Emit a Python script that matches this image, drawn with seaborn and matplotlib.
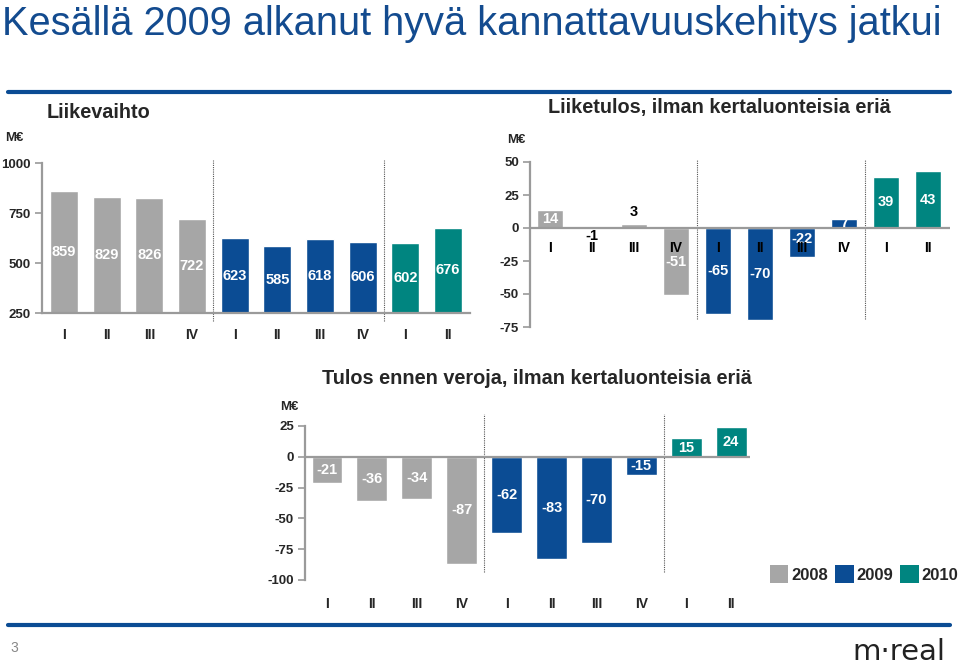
import matplotlib
matplotlib.use("Agg")
import matplotlib.pyplot as plt
import matplotlib.transforms as mtransforms
from matplotlib.patches import Patch
from matplotlib import font_manager
import seaborn as sns
import pandas as pd

# ---------------- data ----------------
quarters = ["I", "II", "III", "IV", "I", "II", "III", "IV", "I", "II"]
years = ["2008"] * 4 + ["2009"] * 4 + ["2010"] * 2
year_levels = ["2008", "2009", "2010"]
liikevaihto = [859, 829, 826, 722, 623, 585, 618, 606, 602, 676]
liiketulos = [14, -1, 3, -51, -65, -70, -22, 7, 39, 43]
tulos_ennen_veroja = [-21, -36, -34, -87, -62, -83, -70, -15, 15, 24]

title = "Kesällä 2009 alkanut hyvä kannattavuuskehitys jatkui"
t1 = "Liikevaihto"
t2 = "Liiketulos, ilman kertaluonteisia eriä"
t3 = "Tulos ennen veroja, ilman kertaluonteisia eriä"
unit = "M€"

GREY = "#A6A6A6"
BLUE = "#0B4C94"
TEAL = "#008580"
palette = {"2008": GREY, "2009": BLUE, "2010": TEAL}
AXC = "#9A9A9A"

sns.set_theme(style="white")
plt.rcParams["font.family"] = ["Liberation Sans", "DejaVu Sans"]
plt.rcParams["axes.unicode_minus"] = False

W, H = 960, 669
fig = plt.figure(figsize=(W / 100, H / 100), dpi=100)


def fx(px):
    return px / W


def fy(py):
    return 1 - py / H


def make_ax(left, right, top, bottom):
    return fig.add_axes([fx(left), fy(bottom), (right - left) / W, (bottom - top) / H])


df = pd.DataFrame({"pos": list(range(len(quarters))), "q": quarters, "year": years,
                   "lv": liikevaihto, "lt": liiketulos, "tv": tulos_ennen_veroja})


def base_style(ax, yticks):
    for s in ["top", "right"]:
        ax.spines[s].set_visible(False)
    ax.spines["left"].set_color(AXC)
    ax.spines["left"].set_linewidth(1.6)
    ax.set_yticks(yticks)
    ax.tick_params(axis="y", which="both", left=True, length=5, width=1.2, color=AXC,
                   labelsize=9.5, pad=3)
    for lab in ax.get_yticklabels():
        lab.set_fontweight("bold")
    ax.set_xlabel("")
    ax.set_ylabel("")
    ax.grid(False)


def dotted(ax, xs, y0, y1):
    tr = mtransforms.blended_transform_factory(ax.transData, ax.transAxes)
    for x in xs:
        ax.plot([x, x], [y0, y1], transform=tr, color="#555555", linestyle=(0, (1, 1)),
                linewidth=0.8, clip_on=False, zorder=1)


# ---------------- panel 1: Liikevaihto ----------------
ax1 = make_ax(42, 470, 163, 313)
sns.barplot(data=df, x="pos", y="lv", hue="year", hue_order=year_levels, palette=palette,
            dodge=False, width=0.66, legend=False, ax=ax1, saturation=1)
ax1.set_ylim(250, 1000)
ax1.set_xlim(-0.516, 9.515)
base_style(ax1, [250, 500, 750, 1000])
ax1.spines["bottom"].set_color(AXC)
ax1.spines["bottom"].set_linewidth(1.6)
ax1.set_xticks(range(len(quarters)))
ax1.set_xticklabels(quarters, fontweight="bold", fontsize=10)
ax1.tick_params(axis="x", length=0, pad=11)
for i, v in enumerate(liikevaihto):
    ax1.text(i, (v + 250) / 2, str(v), ha="center", va="center", color="white",
             fontsize=10.5, fontweight="bold", zorder=5)
dotted(ax1, [3.5, 7.5], -0.05, 1.02)

# ---------------- panel 2: Liiketulos ----------------
ax2 = make_ax(530, 950, 162, 327)
sns.barplot(data=df, x="pos", y="lt", hue="year", hue_order=year_levels, palette=palette,
            dodge=False, width=0.64, legend=False, ax=ax2, saturation=1)
ax2.set_ylim(-75, 50)
ax2.set_xlim(-0.476, 9.524)
base_style(ax2, [-75, -50, -25, 0, 25, 50])
ax2.spines["bottom"].set_visible(False)
ax2.axhline(0, color=AXC, linewidth=1.6, zorder=3)
ax2.set_xticks([])
for i, q in enumerate(quarters):
    ax2.annotate(q, xy=(i, 0), xytext=(0, -14.5), textcoords="offset points",
                 ha="center", va="center", fontsize=10, fontweight="bold", color="black",
                 zorder=6)
for i, v in enumerate(liiketulos):
    if abs(v) < 5:
        off = 9 if v > 0 else -4.5
        ax2.annotate(str(v), xy=(i, v), xytext=(0, off), textcoords="offset points",
                     ha="center", va="center", fontsize=10.5, fontweight="bold",
                     color="black", zorder=6)
    else:
        ax2.annotate(str(v), xy=(i, v / 2), xytext=(0, 2.5 if v == -22 else 0),
                     textcoords="offset points", ha="center", va="center", color="white",
                     fontsize=10.5, fontweight="bold", zorder=5)
dotted(ax2, [3.5, 7.5], 0.05, 1.01)

# ---------------- panel 3: Tulos ennen veroja ----------------
ax3 = make_ax(305, 750, 426, 580)
sns.barplot(data=df, x="pos", y="tv", hue="year", hue_order=year_levels, palette=palette,
            dodge=False, width=0.69, legend=False, ax=ax3, saturation=1)
ax3.set_ylim(-100, 25)
ax3.set_xlim(-0.49, 9.42)
base_style(ax3, [-100, -75, -50, -25, 0, 25])
ax3.spines["bottom"].set_visible(False)
ax3.axhline(0, color=AXC, linewidth=1.6, zorder=3)
ax3.set_xticks(range(len(quarters)))
ax3.set_xticklabels(quarters, fontweight="bold", fontsize=10)
ax3.tick_params(axis="x", length=0, pad=12)
for i, v in enumerate(tulos_ennen_veroja):
    ax3.text(i, v / 2, str(v), ha="center", va="center", color="white",
             fontsize=10.5, fontweight="bold", zorder=5)
dotted(ax3, [3.5, 7.5], 0.05, 1.08)

# ---------------- slide decorations ----------------
try:
    font_manager.findfont("Liberation Sans Narrow", fallback_to_default=False)
    tfam, tsize = ["Liberation Sans Narrow", "DejaVu Sans"], 29
except Exception:
    tfam, tsize = ["Liberation Sans", "DejaVu Sans"], 28.6
fig.text(fx(2), fy(35), title, family=tfam, fontsize=tsize, color="#134B8F",
         ha="left", va="baseline")

for y in (92, 625):
    fig.add_artist(plt.Line2D([fx(8), fx(950)], [fy(y), fy(y)], color="#0B4C94",
                              linewidth=3, transform=fig.transFigure))

fig.text(fx(47), fy(112), t1, fontsize=14.3, fontweight="bold", ha="left", va="center")
fig.text(fx(548), fy(108), t2, fontsize=14.3, fontweight="bold", ha="left", va="center")
fig.text(fx(322), fy(378), t3, fontsize=14.3, fontweight="bold", ha="left", va="center")
fig.text(fx(5), fy(138), unit, fontsize=9.5, fontweight="bold", ha="left", va="center")
fig.text(fx(507), fy(140), unit, fontsize=9.5, fontweight="bold", ha="left", va="center")
fig.text(fx(280), fy(407), unit, fontsize=9.5, fontweight="bold", ha="left", va="center")

handles = [Patch(facecolor=palette[y], edgecolor="none", label=y) for y in year_levels]
leg = fig.legend(handles=handles, loc="center", bbox_to_anchor=(fx(864), fy(574)), ncol=3,
                 frameon=False, handlelength=1.1, handleheight=1.3, handletextpad=0.15,
                 columnspacing=0.45, borderpad=0, borderaxespad=0,
                 prop={"weight": "bold", "size": 12})

fig.text(fx(10), fy(648), "3", fontsize=10, color="#888888", ha="left", va="center")
fig.text(fx(945), fy(666), "m·real", fontsize=21, color="#222222", ha="right", va="bottom",
         family=["DejaVu Sans"])

fig.savefig("out.png", dpi=100)
